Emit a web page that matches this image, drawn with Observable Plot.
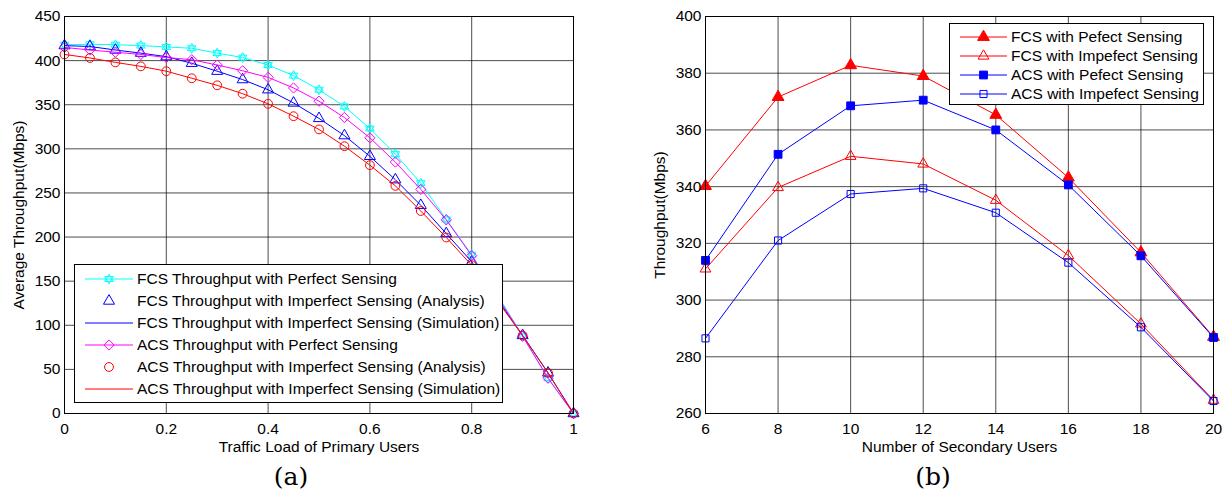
<!DOCTYPE html>
<html><head><meta charset="utf-8">
<script src="https://cdn.jsdelivr.net/npm/d3@7"></script>
<script src="https://cdn.jsdelivr.net/npm/@observablehq/plot@0.6"></script>
<style>
body{margin:0;background:#fff;}
#wrap{position:relative;width:1226px;height:495px;overflow:hidden;font-family:"Liberation Sans",Arial,sans-serif;}
.panel{position:absolute;top:0;}
.legend{position:absolute;background:#fff;border:1px solid #000;box-sizing:border-box;}
.row{position:absolute;left:0;height:20px;display:flex;align-items:center;font-size:15.5px;white-space:nowrap;color:#000;}
.row svg{flex:none;}
.cap{position:absolute;top:462px;width:80px;text-align:center;font-family:"DejaVu Serif","Liberation Serif",serif;font-size:25px;line-height:30px;color:#000;}
</style></head><body><div id="wrap"></div>
<script>
// ---------- Panel (a) data ----------
const loadX = [0, 0.05, 0.1, 0.15, 0.2, 0.25, 0.3, 0.35, 0.4, 0.45, 0.5, 0.55, 0.6, 0.65, 0.7, 0.75, 0.8, 0.85, 0.9, 0.95, 1];
const fcsPerfect   = [418, 418.5, 418, 417, 415.5, 414, 408.5, 403.5, 395, 383, 367, 348, 323, 294, 261, 220, 180, 135, 88, 40, 0];
const fcsImperfect = [417, 416, 412, 408.5, 404.5, 397, 388, 378.5, 367, 352, 334.5, 315, 291.5, 265, 236, 204, 172, 130, 88.5, 46, 0];
const acsPerfect   = [415, 412, 409.5, 407, 403.5, 401, 395, 388.5, 381, 369, 354, 335.5, 312.5, 285, 254, 219.5, 179, 133, 87.5, 40, 0];
const acsImperfect = [407, 403, 398, 393.5, 388, 380, 372, 362.5, 351, 337, 322, 303, 281.5, 258, 229.5, 199.5, 168, 128, 88.5, 46, 0];
const xTicksA = [0, 0.2, 0.4, 0.6, 0.8, 1];
const yTicksA = [0, 50, 100, 150, 200, 250, 300, 350, 400, 450];
const legendA = ["FCS Throughput with Perfect Sensing", "FCS Throughput with Imperfect Sensing (Analysis)", "FCS Throughput with Imperfect Sensing (Simulation)", "ACS Throughput with Perfect Sensing", "ACS Throughput with Imperfect Sensing (Analysis)", "ACS Throughput with Imperfect Sensing (Simulation)"];

// ---------- Panel (b) data ----------
const users = [6, 8, 10, 12, 14, 16, 18, 20];
const fcsPerfectB   = [340.2, 371.6, 382.8, 379, 365.3, 343.2, 316.8, 287];
const fcsImperfectB = [311, 339.7, 350.7, 348, 335.2, 315.7, 291.6, 264.7];
const acsPerfectB   = [314, 351.4, 368.5, 370.5, 360, 340.6, 315.6, 286.8];
const acsImperfectB = [286.5, 321, 337.4, 339.4, 330.8, 313.2, 290.4, 264.4];
const xTicksB = [6, 8, 10, 12, 14, 16, 18, 20];
const yTicksB = [260, 280, 300, 320, 340, 360, 380, 400];
const legendB = ["FCS with Pefect Sensing", "FCS with Impefect Sensing", "ACS with Pefect Sensing", "ACS with Impefect Sensing"];

// hexagram symbol (MATLAB 'h')
const hexagram = {
  draw(ctx, size) {
    const R = Math.sqrt(size / Math.PI) * 1.15;
    for (const a0 of [-90, 90]) {
      for (let k = 0; k < 3; k++) {
        const a = (a0 + k * 120) * Math.PI / 180;
        const px = R * Math.cos(a), py = R * Math.sin(a);
        if (k === 0) ctx.moveTo(px, py); else ctx.lineTo(px, py);
      }
      ctx.closePath();
    }
  }
};

const rowsA = loadX.map((x, i) => ({x, fp: fcsPerfect[i], fi: fcsImperfect[i], ap: acsPerfect[i], ai: acsImperfect[i]}));
const rowsB = users.map((x, i) => ({x, fp: fcsPerfectB[i], fi: fcsImperfectB[i], ap: acsPerfectB[i], ai: acsImperfectB[i]}));

const CY = "#00ffff", BL = "#0000ff", MG = "#ff00ff", RD = "#ff0000";
const gridStyle = {stroke: "#000", strokeOpacity: 0.7, strokeWidth: 1};
const font = {fontFamily: "'Liberation Sans', Arial, sans-serif", fontSize: "15.5px", background: "transparent", color: "#000"};

const plotA = Plot.plot({
  width: 600, height: 460,
  marginLeft: 64, marginRight: 27, marginTop: 16, marginBottom: 47,
  style: font,
  x: {domain: [0, 1]},
  y: {domain: [0, 450]},
  marks: [
    Plot.gridX(xTicksA, gridStyle),
    Plot.gridY(yTicksA, gridStyle),
    Plot.line(rowsA, {x: "x", y: "fp", stroke: CY, strokeWidth: 1}),
    Plot.dot(rowsA, {x: "x", y: "fp", symbol: hexagram, r: 4.3, stroke: CY, strokeWidth: 1}),
    Plot.dot(rowsA, {x: "x", y: "fi", symbol: "triangle", r: 4.1, stroke: BL, strokeWidth: 1}),
    Plot.line(rowsA, {x: "x", y: "fi", stroke: BL, strokeWidth: 1}),
    Plot.line(rowsA, {x: "x", y: "ap", stroke: MG, strokeWidth: 1}),
    Plot.dot(rowsA, {x: "x", y: "ap", symbol: "diamond2", r: 4.6, stroke: MG, strokeWidth: 1}),
    Plot.dot(rowsA, {x: "x", y: "ai", symbol: "circle", r: 4.4, stroke: RD, strokeWidth: 1}),
    Plot.line(rowsA, {x: "x", y: "ai", stroke: RD, strokeWidth: 1}),
    Plot.frame({stroke: "#000"}),
    Plot.axisX({ticks: xTicksA, tickSize: 0, tickPadding: 9, tickFormat: d => String(d), label: "Traffic Load of Primary Users", labelAnchor: "center", labelOffset: 38.5, labelArrow: "none"}),
    Plot.axisY({ticks: yTicksA, tickSize: 0, tickPadding: 4, label: "Average Throughput(Mbps)", labelAnchor: "center", labelOffset: 52, labelArrow: "none"})
  ]
});

const plotB = Plot.plot({
  width: 613, height: 460,
  marginLeft: 92, marginRight: 13, marginTop: 16, marginBottom: 47,
  style: font,
  x: {domain: [6, 20]},
  y: {domain: [260, 400]},
  marks: [
    Plot.gridX(xTicksB, gridStyle),
    Plot.gridY(yTicksB, gridStyle),
    Plot.line(rowsB, {x: "x", y: "fp", stroke: RD, strokeWidth: 1}),
    Plot.dot(rowsB, {x: "x", y: "fp", symbol: "triangle", r: 4.4, fill: RD, stroke: RD, strokeWidth: 1}),
    Plot.line(rowsB, {x: "x", y: "fi", stroke: RD, strokeWidth: 1}),
    Plot.dot(rowsB, {x: "x", y: "fi", symbol: "triangle", r: 4, stroke: RD, strokeWidth: 1}),
    Plot.line(rowsB, {x: "x", y: "ap", stroke: BL, strokeWidth: 1}),
    Plot.dot(rowsB, {x: "x", y: "ap", symbol: "square", r: 4.4, fill: BL, stroke: BL, strokeWidth: 1}),
    Plot.line(rowsB, {x: "x", y: "ai", stroke: BL, strokeWidth: 1}),
    Plot.dot(rowsB, {x: "x", y: "ai", symbol: "square", r: 4, stroke: BL, strokeWidth: 1}),
    Plot.frame({stroke: "#000"}),
    Plot.axisX({ticks: xTicksB, tickSize: 0, tickPadding: 9, label: "Number of Secondary Users", labelAnchor: "center", labelOffset: 38.5, labelArrow: "none"}),
    Plot.axisY({ticks: yTicksB, tickSize: 0, tickPadding: 4, label: "Throughput(Mbps)", labelAnchor: "center", labelOffset: 52, labelArrow: "none"})
  ]
});

const wrap = document.getElementById("wrap");
function panel(el, left) {
  const d = document.createElement("div");
  d.className = "panel"; d.style.left = left + "px";
  d.appendChild(el); wrap.appendChild(d);
}
panel(plotA, 0);
panel(plotB, 613);

function sym(type, r) {
  return d3.symbol(type, Math.PI * r * r)();
}
function legend(box, entries) {
  const lg = document.createElement("div");
  lg.className = "legend";
  Object.assign(lg.style, {left: box.left + "px", top: box.top + "px", width: box.width + "px", height: box.height + "px"});
  entries.forEach((e, i) => {
    const row = document.createElement("div");
    row.className = "row";
    row.style.top = (box.first + i * box.step - 10) + "px";
    const ns = "http://www.w3.org/2000/svg";
    const s = document.createElementNS(ns, "svg");
    s.setAttribute("width", box.textX); s.setAttribute("height", 20);
    if (e.line) {
      const l = document.createElementNS(ns, "line");
      l.setAttribute("x1", box.lx1); l.setAttribute("x2", box.lx2);
      l.setAttribute("y1", 10); l.setAttribute("y2", 10);
      l.setAttribute("stroke", e.color); l.setAttribute("stroke-width", 1);
      s.appendChild(l);
    }
    if (e.symbol) {
      const p = document.createElementNS(ns, "path");
      p.setAttribute("d", sym(e.symbol, e.r));
      p.setAttribute("transform", `translate(${(box.lx1 + box.lx2) / 2},10)`);
      p.setAttribute("fill", e.fill ? e.color : "none");
      p.setAttribute("stroke", e.color);
      s.appendChild(p);
    }
    row.appendChild(s);
    const t = document.createElement("span");
    t.textContent = e.label;
    row.appendChild(t);
    lg.appendChild(row);
  });
  wrap.appendChild(lg);
}

legend({left: 74, top: 264, width: 429, height: 139, first: 14.3, step: 21.9, lx1: 10, lx2: 58, textX: 62},
  [
    {label: legendA[0], color: CY, line: true, symbol: hexagram, r: 4.3},
    {label: legendA[1], color: BL, line: false, symbol: d3.symbolTriangle, r: 4.1},
    {label: legendA[2], color: BL, line: true},
    {label: legendA[3], color: MG, line: true, symbol: d3.symbolDiamond2, r: 4.6},
    {label: legendA[4], color: RD, line: false, symbol: d3.symbolCircle, r: 4.4},
    {label: legendA[5], color: RD, line: true}
  ]);

legend({left: 949, top: 23, width: 255, height: 82, first: 13.2, step: 18.9, lx1: 10, lx2: 57, textX: 61},
  [
    {label: legendB[0], color: RD, line: true, symbol: d3.symbolTriangle, r: 4.4, fill: true},
    {label: legendB[1], color: RD, line: true, symbol: d3.symbolTriangle, r: 4},
    {label: legendB[2], color: BL, line: true, symbol: d3.symbolSquare, r: 4.4, fill: true},
    {label: legendB[3], color: BL, line: true, symbol: d3.symbolSquare, r: 4}
  ]);

function cap(text, cx) {
  const c = document.createElement("div");
  c.className = "cap"; c.textContent = text;
  c.style.left = (cx - 40) + "px";
  wrap.appendChild(c);
}
cap("(a)", 291);
cap("(b)", 933);
</script>
</body></html>
